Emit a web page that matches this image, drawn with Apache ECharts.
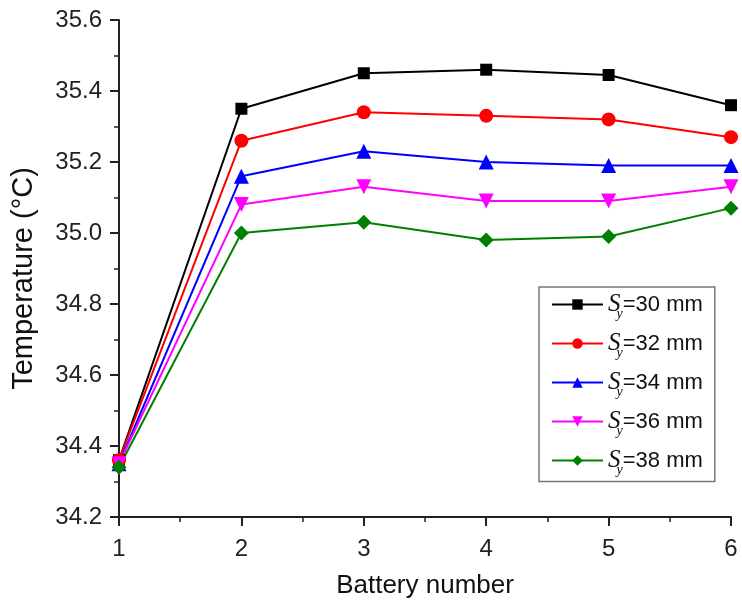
<!DOCTYPE html>
<html>
<head>
<meta charset="utf-8">
<script src="https://cdn.jsdelivr.net/npm/echarts@6/dist/echarts.min.js"></script>
<style>html,body{margin:0;padding:0;background:#fff}#c{width:742px;height:606px}</style>
</head>
<body>
<div id="c"></div>
<script>
const batteries = [1, 2, 3, 4, 5, 6];
const sy30 = [34.36, 35.35, 35.45, 35.46, 35.445, 35.36];
const sy32 = [34.36, 35.26, 35.34, 35.33, 35.32, 35.27];
const sy34 = [34.35, 35.16, 35.23, 35.20, 35.19, 35.19];
const sy36 = [34.35, 35.08, 35.13, 35.09, 35.09, 35.13];
const sy38 = [34.34, 35.00, 35.03, 34.98, 34.99, 35.07];
const seriesNames = ['Sy=30 mm', 'Sy=32 mm', 'Sy=34 mm', 'Sy=36 mm', 'Sy=38 mm'];
const legendValues = ['30', '32', '34', '36', '38'];
const yTicks = { min: 34.2, max: 35.6, interval: 0.2 };

const colors = ['#000000', '#ff0000', '#0000ff', '#ff00ff', '#008000'];
const symbols = ['rect', 'circle', 'triangle', 'triangle', 'diamond'];
const rotates = [0, 0, 0, 180, 0];
const sizes = [12, 14, 15, 15, 15];
const allData = [sy30, sy32, sy34, sy36, sy38];

const chart = echarts.init(document.getElementById('c'));
const series = allData.map((vals, i) => ({
  name: seriesNames[i],
  type: 'line',
  data: vals.map((v, j) => [batteries[j], v]),
  symbol: symbols[i],
  symbolRotate: rotates[i],
  symbolSize: sizes[i],
  lineStyle: { color: colors[i], width: 2 },
  itemStyle: { color: colors[i] },
  color: colors[i],
  animation: false
}));

const axisColor = '#222';
chart.setOption({
  animation: false,
  grid: { left: 119, right: 11, top: 20, bottom: 89, containLabel: false, outerBoundsMode: 'none' },
  xAxis: {
    type: 'value', min: 1, max: 6, interval: 1,
    name: 'Battery number', nameLocation: 'middle', nameGap: 56,
    nameTextStyle: { fontFamily: 'Liberation Sans', fontSize: 26, color: '#111' },
    axisLine: { lineStyle: { color: axisColor, width: 2 } },
    axisTick: { inside: false, length: 9, lineStyle: { color: axisColor, width: 2 } },
    minorTick: { show: true, splitNumber: 2, length: 5, lineStyle: { color: axisColor, width: 1.5 } },
    axisLabel: { fontFamily: 'Liberation Sans', fontSize: 24, color: '#222', margin: 20 },
    splitLine: { show: false }
  },
  yAxis: {
    type: 'value', min: yTicks.min, max: yTicks.max, interval: yTicks.interval,
    name: 'Temperature (°C)', nameLocation: 'middle', nameGap: 81,
    nameTextStyle: { fontFamily: 'Liberation Sans', fontSize: 29, color: '#111', padding: [0, 20, 0, 0] },
    axisLine: { show: true, lineStyle: { color: axisColor, width: 2 } },
    axisTick: { show: true, inside: false, length: 9, lineStyle: { color: axisColor, width: 2 } },
    minorTick: { show: true, splitNumber: 2, length: 5, lineStyle: { color: axisColor, width: 1.5 } },
    axisLabel: { fontFamily: 'Liberation Sans', fontSize: 24, color: '#222', margin: 17,
      formatter: v => v.toFixed(1) },
    splitLine: { show: false }
  },
  legend: {
    orient: 'vertical',
    left: 539, top: 287,
    padding: [5, 12, 4, 12],
    itemGap: 9.5,
    itemWidth: 51, itemHeight: 13,
    borderColor: '#777', borderWidth: 1.5,
    backgroundColor: '#fff',
    data: seriesNames,
    formatter: name => '{s|S}{sub|y}{t|=' + legendValues[seriesNames.indexOf(name)] + ' mm}',
    textStyle: {
      fontFamily: 'Liberation Sans', fontSize: 22, color: '#111',
      rich: {
        s: { fontFamily: 'Liberation Serif', fontStyle: 'italic', fontSize: 25, color: '#111' },
        sub: { fontFamily: 'Liberation Serif', fontStyle: 'italic', fontSize: 14, color: '#111', padding: [20, 0, 0, -4] },
        t: { fontFamily: 'Liberation Sans', fontSize: 22, color: '#111' }
      }
    }
  },
  series: series
});
</script>
</body>
</html>
